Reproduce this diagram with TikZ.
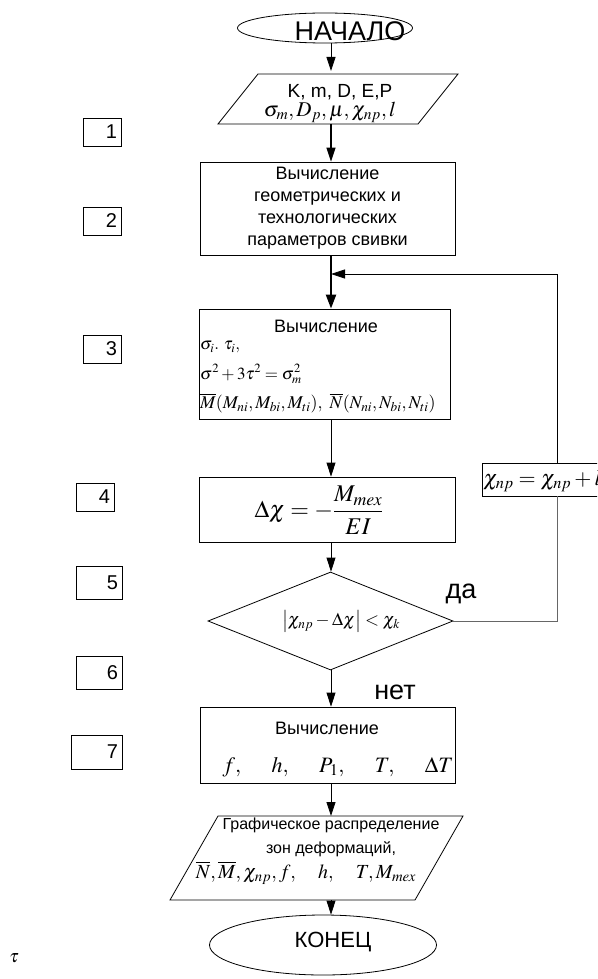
\documentclass[tikz,border=0pt]{standalone}
\usepackage{mathptmx}
\usepackage{amsmath}
\usepackage[no-math]{fontspec}
\setmainfont{Liberation Sans}
\usetikzlibrary{arrows.meta,shapes.geometric}

\tikzset{
  flow/.style={draw, line width=0.8pt},
  arr/.style={line width=0.8pt, -{Triangle[length=14pt,width=9pt]}},
  box/.style={draw, line width=0.8pt, inner sep=0pt},
  numbox/.style={draw, line width=0.6pt, inner sep=4pt, minimum height=28pt, align=right,
    font=\fontsize{20}{20}\selectfont},
}

\begin{document}
\begin{tikzpicture}[x=1pt,y=-1pt]
\useasboundingbox (0,0) rectangle (597,979);
\clip (0,0) rectangle (597,979);

% column of the main arrows and the feedback line
\coordinate (col) at (331,0);
\coordinate (fb) at (557,274);

% start
\node[ellipse, box, minimum width=175pt, minimum height=30pt] (start) at (325,28) {};
\node[font=\fontsize{27}{27}\selectfont] (starttxt) at (350,31) {НАЧАЛО};

% input data (parallelogram)
\coordinate (p1a) at (258,74);
\coordinate (p1b) at (458,74);
\coordinate (p1c) at (418,124);
\coordinate (p1d) at (218,124);
\draw[flow] (p1a) -- (p1b) -- (p1c) -- (p1d) -- cycle;
\node[font=\fontsize{19}{19}\selectfont] (in1) at (340,92) {K, m, D, E,P};
\node[font=\fontsize{21}{21}\selectfont] (in2) at (330,112) {$\sigma_m, D_p, \mu, \chi_{np}, l$};

% geometry
\node[box, minimum width=255pt, minimum height=93pt, align=center,
  font=\fontsize{18}{22}\selectfont] (b2) at (327.5,208.5)
  {Вычисление\\геометрических и\\технологических\\параметров свивки};

% stresses and moments
\node[box, minimum width=251pt, minimum height=110pt] (b3) at (324.5,364) {};
\node[font=\fontsize{18}{18}\selectfont] (b3t) at (326,326) {Вычисление};
\node[anchor=west, inner sep=1pt, font=\fontsize{17}{17}\selectfont] (b3a) at (199,347) {$\sigma_i.\ \tau_i,$};
\node[anchor=west, inner sep=1pt, font=\fontsize{17}{17}\selectfont] (b3b) at (199,374) {$\sigma^2+3\tau^2=\sigma_m^2$};
\node[anchor=west, inner sep=1pt, font=\fontsize{18}{18}\selectfont] (b3c) at (199,403)
  {$\overline{M}(M_{ni},M_{bi},M_{ti}),\ \overline{N}(N_{ni},N_{bi},N_{ti})$};

% curvature increment
\node[box, minimum width=256pt, minimum height=65pt] (b4) at (327,509.5) {};
\node[font=\fontsize{24}{24}\selectfont] (b4t) at (319,510) {$\displaystyle \Delta\chi=-\frac{M_{mex}}{EI}$};

% check
\node[diamond, box, minimum width=245pt, minimum height=98pt] (dia) at (330.5,621) {};
\node[font=\fontsize{18}{18}\selectfont] (diat) at (341,621) {$\left|\chi_{np}-\Delta\chi\right|<\chi_k$};
\node[font=\fontsize{27}{27}\selectfont] (yes) at (461,594) {да};
\node[font=\fontsize{27}{27}\selectfont] (no) at (395,692) {нет};

% new curvature
\node[box, minimum width=138pt, minimum height=33pt] (chi) at (551,479.5) {};
\node[anchor=west, inner sep=1pt, font=\fontsize{22}{22}\selectfont] (chit) at (482,481) {$\chi_{np}=\chi_{np}+l$};

% results
\node[box, minimum width=255pt, minimum height=76pt] (b6) at (327.5,745) {};
\node[font=\fontsize{18}{18}\selectfont] (b6t) at (327,728) {Вычисление};
\node[font=\fontsize{22}{22}\selectfont] (b6m) at (338,767)
  {$f,\hspace{28pt}h,\hspace{28pt}P_1,\hspace{28pt}T,\hspace{28pt}\Delta T$};

% output (parallelogram)
\coordinate (p7a) at (218,816);
\coordinate (p7b) at (463,816);
\coordinate (p7c) at (415,900);
\coordinate (p7d) at (170,900);
\draw[flow] (p7a) -- (p7b) -- (p7c) -- (p7d) -- cycle;
\node[align=center, font=\fontsize{16}{24}\selectfont] (out1) at (331,837)
  {Графическое распределение\\зон деформаций,};
\node[font=\fontsize{20}{20}\selectfont] (out2) at (306,873)
  {$\overline{N},\overline{M},\chi_{np},f,\quad h,\quad T,M_{mex}$};

% end
\node[ellipse, box, minimum width=227pt, minimum height=60pt] (stop) at (323,945) {};
\node[font=\fontsize{22}{22}\selectfont] (stoptxt) at (333,942) {КОНЕЦ};

% main arrows
\draw[arr] (start.south -| col) -- ([yshift=3pt]p1a -| col);
\draw[line width=1.3pt, -{Triangle[length=14pt,width=9pt]}] (p1d -| col) -- (b2.north -| col);
\draw[line width=2.2pt, -{Triangle[length=14pt,width=10pt]}] (b2.south -| col) -- (b3.north -| col);
\draw[arr] (b3.south -| col) -- (b4.north -| col);
\draw[arr] (b4.south -| col) -- (dia.north -| col);
\draw[arr] (dia.south -| col) -- (b6.north -| col);
\draw[arr] (b6.south -| col) -- (p7a -| col);
\draw[arr] (p7d -| col) -- (stop.north -| col);

% feedback loop
\draw[flow, black!60] (dia.east) -- (dia.east -| fb) -- (chi.south -| fb);
\draw[arr] (chi.north -| fb) -- (fb) -- (fb -| col);

% step numbers
\node[numbox, text width=30pt] (n1) at (102,132) {1};
\node[numbox, text width=30pt] (n2) at (102,221) {2};
\node[numbox, text width=30pt] (n3) at (102,349) {3};
\node[numbox, text width=30pt] (n4) at (95,497) {4};
\node[numbox, text width=38pt, minimum height=33pt] (n5) at (99,583) {5};
\node[numbox, text width=38pt, minimum height=33pt] (n6) at (99,673) {6};
\node[numbox, text width=43pt, minimum height=34pt] (n7) at (96.5,752) {7};

\node[font=\fontsize{18}{18}\selectfont] (tau) at (14,958) {$\tau$};
\end{tikzpicture}
\end{document}
